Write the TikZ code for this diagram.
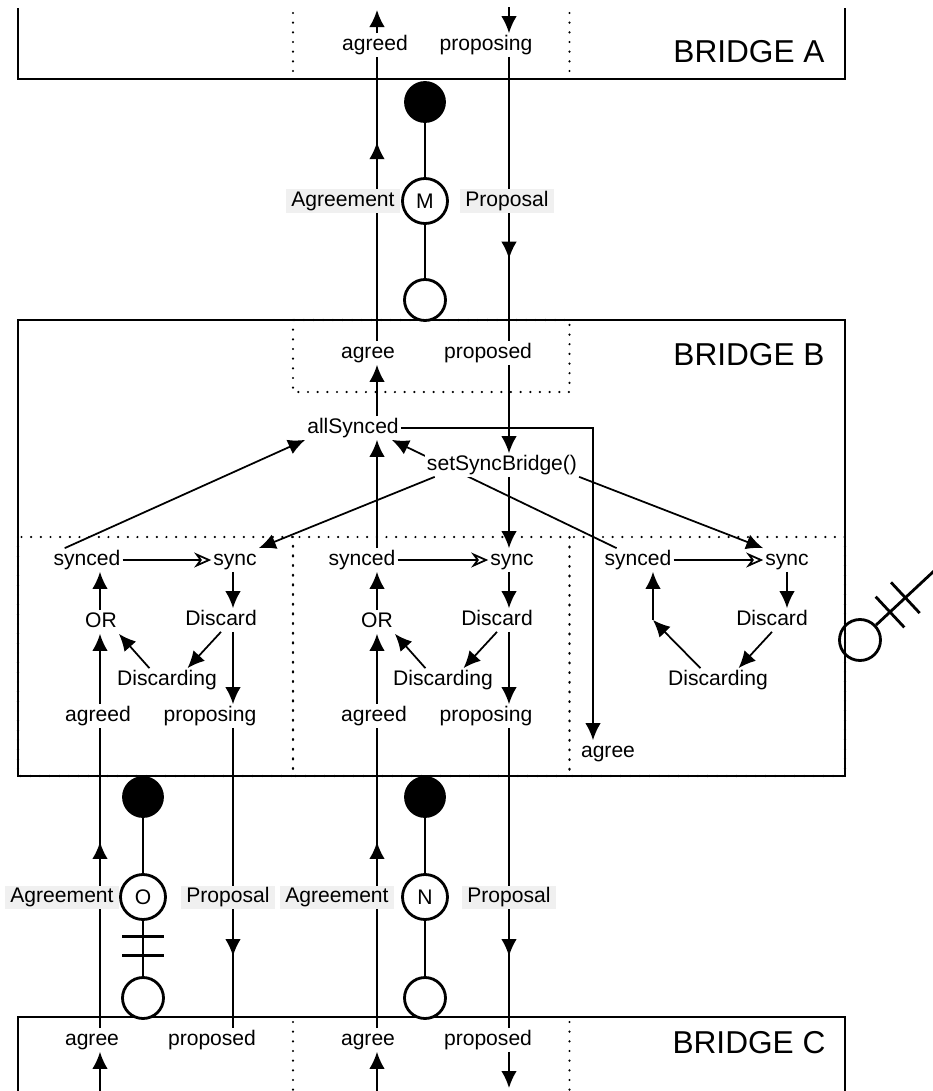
\documentclass[tikz,border=0pt]{standalone}
\usepackage{fontspec}
\setmainfont{Liberation Sans}
\usetikzlibrary{arrows.meta,calc,backgrounds,decorations.markings}
\definecolor{Tag}{HTML}{F0F0F0}
\tikzset{
  arr/.style={-{Latex[length=3.4mm,width=3.1mm]},line width=1pt},
  opn/.style={-{Stealth[open,length=3.4mm,width=3mm,inset=1.1mm]},line width=1pt},
  wire/.style={line width=1pt},
  midarr/.style={wire,postaction={decorate},decoration={markings,mark=at position #1 with {\arrow{Latex[length=3.4mm,width=3.1mm]}}}},
  bridge/.style={line width=1.1pt},
  dotbox/.style={line width=1.4pt,dash pattern=on 0pt off 5.5pt,line cap=round},
  txt/.style={font=\fontsize{12}{14}\selectfont,inner sep=1pt,text height=8.6pt,text depth=2.5pt},
  big/.style={font=\fontsize{18}{21}\selectfont,inner sep=1pt},
  tag/.style={txt,fill=Tag,inner xsep=.1cm,minimum height=.46cm},
  link/.style={line width=1.6pt},
  blob/.style={circle,fill=black,draw,line width=1.6pt,minimum size=.78cm,inner sep=0pt},
  ring/.style={circle,fill=white,draw,line width=1.6pt,minimum size=.82cm,inner sep=0pt},
  role/.style={circle,fill=white,draw,line width=1.6pt,minimum size=.9cm,inner sep=0pt,font=\fontsize{12}{14}\selectfont}
}
\begin{document}
\begin{tikzpicture}
  \path[use as bounding box,clip] (0,0) rectangle (18.66,-21.82);
  \draw[bridge] (0.36,-0.16) |- (16.9,-1.58) -- (16.9,-0.16);
  \draw[bridge] (0.36,-6.4) rectangle (16.9,-15.52);
  \draw[bridge] (0.36,-21.9) |- (16.9,-20.34) -- (16.9,-21.9);
  \draw[dotbox] (5.86,-0.26) -- (5.86,-1.58) (11.39,-0.26) -- (11.39,-1.58);
  \draw[dotbox] (5.86,-6.4) rectangle (11.39,-7.84);
  \draw[dotbox] (0.36,-10.74) rectangle (5.86,-15.52) (5.86,-10.74) rectangle (11.39,-15.52) (11.39,-10.74) rectangle (16.9,-15.52);
  \draw[dotbox] (5.86,-20.44) -- (5.86,-21.82) (11.39,-20.44) -- (11.39,-21.82);
  \coordinate (ax1) at (2.0,0); \coordinate (px1) at (4.66,0);
  \coordinate (ax2) at (7.54,0); \coordinate (px2) at (10.18,0);
  \coordinate (ax3) at (11.86,0);
  \coordinate (topA) at (7.54,-0.2); \coordinate (topP) at (10.18,-0.14);
  \coordinate (botA1) at (2.0,-21.82); \coordinate (botA2) at (7.54,-21.82);
  \coordinate (botP2) at (10.18,-21.76);
  \node[big] (bridgeA) at (14.98,-1.04) {BRIDGE A};
  \node[big] (bridgeB) at (14.98,-7.1) {BRIDGE B};
  \node[big] (bridgeC) at (14.98,-20.86) {BRIDGE C};
  \node[txt] (agreedA) at (7.5,-0.9) {agreed};
  \node[txt] (proposingA) at (9.72,-0.9) {proposing};
  \node[txt] (agreeB) at (7.36,-7.06) {agree};
  \node[txt] (proposedB) at (9.76,-7.06) {proposed};
  \node[txt] (allSynced) at (7.06,-8.56) {allSynced};
  \node[txt,fill=white] (setSync) at (10.04,-9.3) {setSyncBridge()};
  \node[txt] (synced1) at (1.74,-11.2) {synced};
  \node[txt] (sync1) at (4.7,-11.2) {sync};
  \node[txt] (or1) at (2.02,-12.44) {OR};
  \node[txt] (discard1) at (4.42,-12.4) {Discard};
  \node[txt] (discarding1) at (3.34,-13.6) {Discarding};
  \node[txt] (agreed1) at (1.96,-14.32) {agreed};
  \node[txt] (proposing1) at (4.2,-14.32) {proposing};
  \node[txt] (synced2) at (7.24,-11.2) {synced};
  \node[txt] (sync2) at (10.24,-11.2) {sync};
  \node[txt] (or2) at (7.54,-12.44) {OR};
  \node[txt] (discard2) at (9.94,-12.4) {Discard};
  \node[txt] (discarding2) at (8.86,-13.6) {Discarding};
  \node[txt] (agreed2) at (7.48,-14.32) {agreed};
  \node[txt] (proposing2) at (9.72,-14.32) {proposing};
  \node[txt] (synced3) at (12.76,-11.2) {synced};
  \node[txt] (sync3) at (15.74,-11.2) {sync};
  \node[txt] (discard3) at (15.44,-12.4) {Discard};
  \node[txt] (discarding3) at (14.36,-13.6) {Discarding};
  \coordinate (or3) at (13.06,-12.4);
  \node[txt] (agree3) at (12.16,-15.04) {agree};
  \node[txt] (agreeC1) at (1.84,-20.8) {agree};
  \node[txt] (proposedC1) at (4.24,-20.8) {proposed};
  \node[txt] (agreeC2) at (7.36,-20.8) {agree};
  \node[txt] (proposedC2) at (9.76,-20.8) {proposed};
  \draw[arr] (agreedA.north -| topA) -- (topA);
  \draw[arr] (topP) -- (topP |- proposingA.north);
  \draw[arr] (px2 |- proposedB.south) -- (px2 |- setSync.north);
  \draw[arr] (ax2 |- allSynced.north) -- (ax2 |- agreeB.south);
  \draw[arr] (px2 |- setSync.south) -- (px2 |- sync2.north);
  \draw[arr] (setSync.190) -- (sync1.north east);
  \draw[arr] (setSync.south east) -- (sync3.north west);
  \draw[arr] (synced1.152) -- (allSynced.south west);
  \draw[arr] (ax2 |- synced2.north) -- (ax2 |- allSynced.south);
  \begin{scope}[on background layer]
    \draw[arr] (synced3.151) -- (allSynced.-17);
  \end{scope}
  \draw[arr] (allSynced.east) -| (ax3 |- agree3.north);
  \draw[arr] (ax1 |- agreed1.north) -- (ax1 |- or1.south);
  \draw[arr] (ax1 |- or1.north) -- (ax1 |- synced1.south);
  \draw[opn] (synced1) -- (sync1);
  \draw[arr] (px1 |- sync1.south) -- (px1 |- discard1.north);
  \draw[arr] (discard1.south) -- (discarding1.30);
  \draw[arr] (px1 |- discard1.south) -- (px1 |- proposing1.north);
  \draw[arr] (discarding1.146) -- (or1.south east);
  \draw[arr] (ax2 |- agreed2.north) -- (ax2 |- or2.south);
  \draw[arr] (ax2 |- or2.north) -- (ax2 |- synced2.south);
  \draw[opn] (synced2) -- (sync2);
  \draw[arr] (px2 |- sync2.south) -- (px2 |- discard2.north);
  \draw[arr] (discard2.south) -- (discarding2.30);
  \draw[arr] (px2 |- discard2.south) -- (px2 |- proposing2.north);
  \draw[arr] (discarding2.146) -- (or2.south east);
  \draw[opn] (synced3) -- (sync3);
  \draw[arr] (sync3.south) -- (sync3.south |- discard3.north);
  \draw[arr] (discard3.south) -- (discarding3.30);
  \draw[arr] (discarding3.146) -- (or3);
  \draw[arr] (or3) -- (or3 |- synced3.south);
  \draw[midarr=.70] (ax2 |- agreeB.north) -- (ax2 |- agreedA.south);
  \draw[midarr=.71] (px2 |- proposingA.south) -- (px2 |- proposedB.north);
  \draw[midarr=.62] (ax1 |- agreeC1.north) -- (ax1 |- agreed1.south);
  \draw[midarr=.76] (px1 |- proposing1.south) -- (px1 |- proposedC1.north);
  \draw[midarr=.62] (ax2 |- agreeC2.north) -- (ax2 |- agreed2.south);
  \draw[midarr=.76] (px2 |- proposing2.south) -- (px2 |- proposedC2.north);
  \draw[arr] (botA1) -- (botA1 |- agreeC1.south);
  \draw[arr] (botA2) -- (botA2 |- agreeC2.south);
  \draw[arr] (px2 |- proposedC2.south) -- (botP2);
  \node[blob] (mTop) at (8.5,-2.04) {};
  \node[role] (mMid) at (8.5,-4.02) {M};
  \node[ring] (mBot) at (8.5,-6.0) {};
  \draw[link] (mTop) -- (mMid) -- (mBot);
  \node[tag] (agreeM) at (6.86,-4.02) {Agreement};
  \node[tag] (propM) at (10.14,-4.02) {Proposal};
  \node[blob] (oTop) at (2.86,-15.94) {};
  \node[role] (oMid) at (2.86,-17.94) {O};
  \node[ring] (oBot) at (2.86,-19.96) {};
  \draw[link] (oTop) -- (oMid) -- (oBot);
  \draw[link] ($(oMid.south)!.28!(oBot.north)$) +(-.42,0) -- +(.42,0);
  \draw[link] ($(oMid.south)!.63!(oBot.north)$) +(-.42,0) -- +(.42,0);
  \node[tag] (agreeO) at (1.24,-17.94) {Agreement};
  \node[tag] (propO) at (4.56,-17.94) {Proposal};
  \node[blob] (nTop) at (8.5,-15.94) {};
  \node[role] (nMid) at (8.5,-17.94) {N};
  \node[ring] (nBot) at (8.5,-19.96) {};
  \draw[link] (nTop) -- (nMid) -- (nBot);
  \node[tag] (agreeN) at (6.74,-17.94) {Agreement};
  \node[tag] (propN) at (10.18,-17.94) {Proposal};
  \node[ring,fill=none] (qBot) at (17.2,-12.8) {};
  \coordinate (qEnd) at ($(qBot)+(43:3)$);
  \draw[link] (qBot) -- (qEnd);
  \draw[link] ($(qBot)+(43:.82)$) +(133:.42) -- +(-47:.42);
  \draw[link] ($(qBot)+(43:1.24)$) +(133:.42) -- +(-47:.42);
\end{tikzpicture}
\end{document}
